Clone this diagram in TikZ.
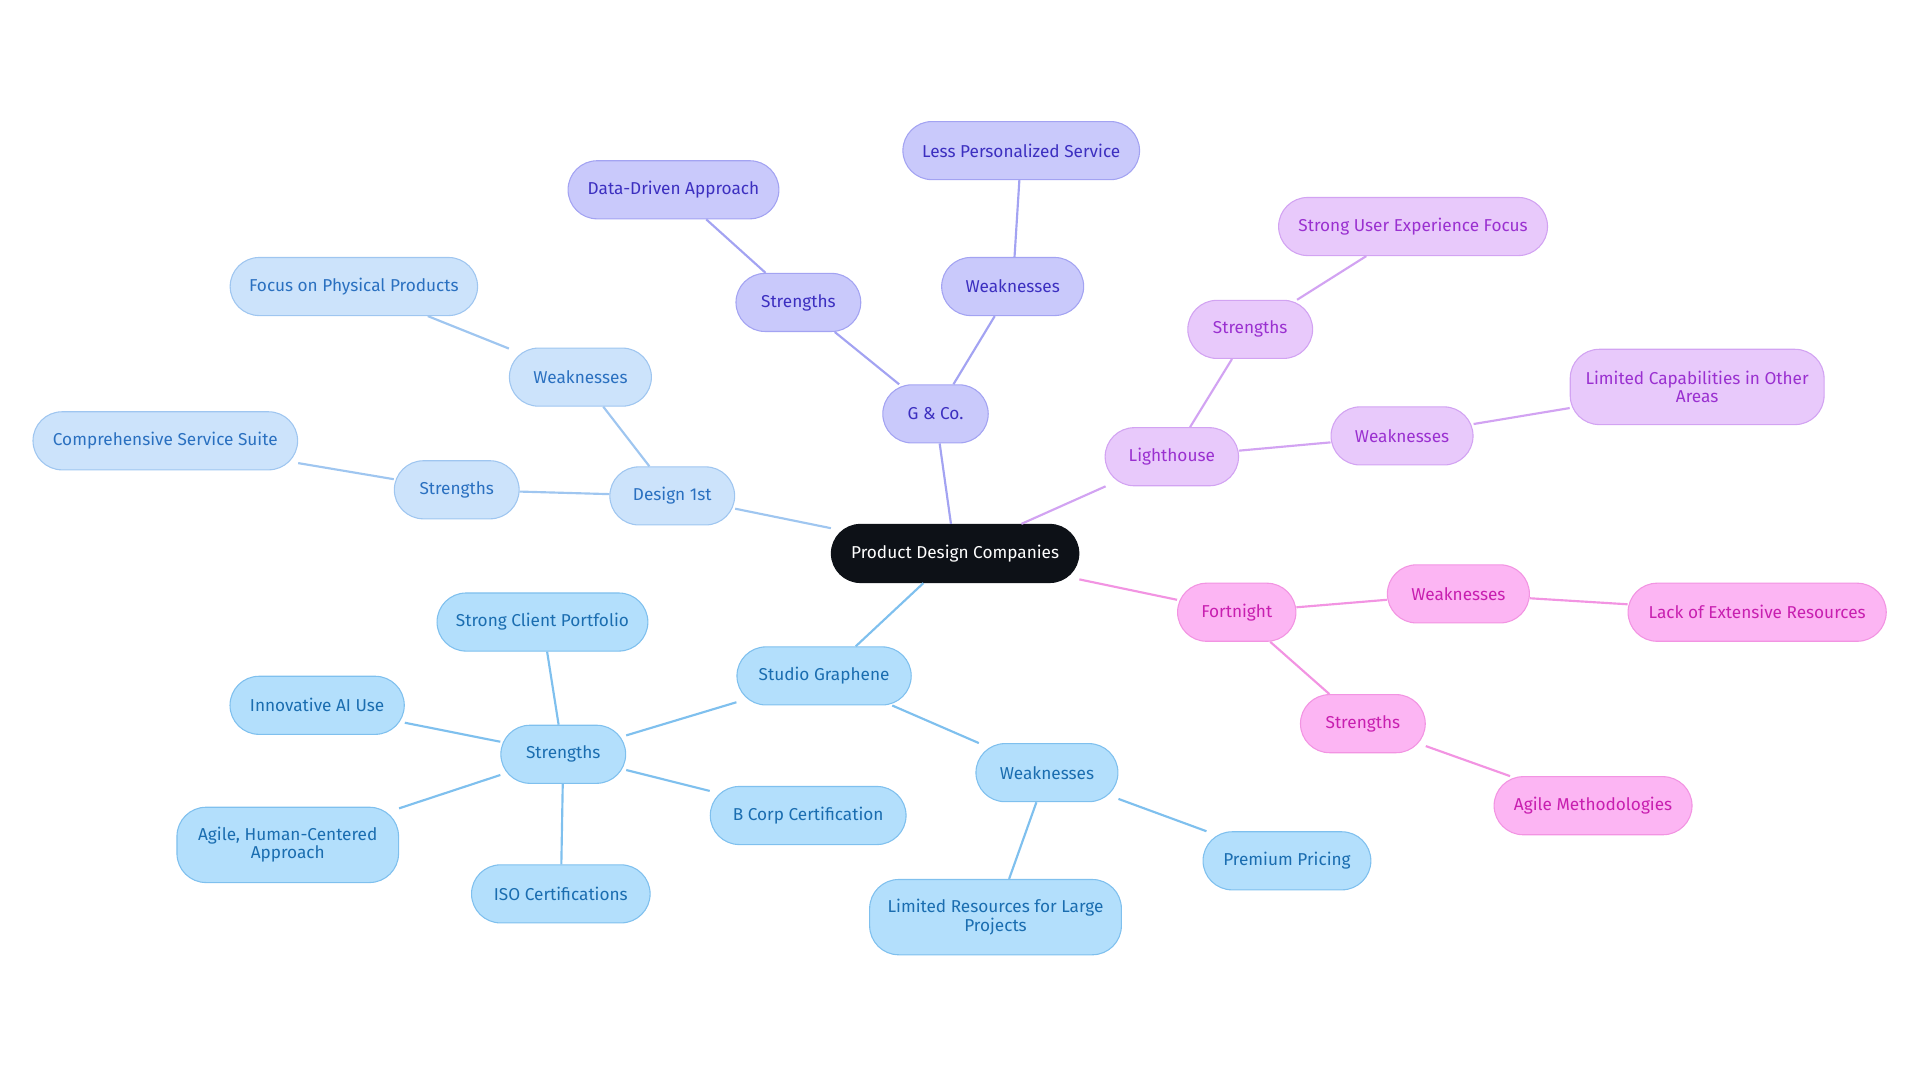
\documentclass[tikz,border=0pt]{standalone}
\usepackage{fontspec}
\setmainfont{Fira Sans}
\definecolor{rootc}{HTML}{0D1117}
\definecolor{gfill}{HTML}{C9C9FB}\definecolor{gline}{HTML}{A3A3F2}\definecolor{gtext}{HTML}{3C2FC0}
\definecolor{lfill}{HTML}{E8C9FB}\definecolor{lline}{HTML}{D2A3F2}\definecolor{ltext}{HTML}{9A30D0}
\definecolor{ffill}{HTML}{FCB5F3}\definecolor{fline}{HTML}{F294E2}\definecolor{ftext}{HTML}{C81FB0}
\definecolor{sfill}{HTML}{B3DFFC}\definecolor{sline}{HTML}{7FC0EE}\definecolor{stext}{HTML}{1A6DB0}
\definecolor{dfill}{HTML}{CCE3FB}\definecolor{dline}{HTML}{9FC6F0}\definecolor{dtext}{HTML}{2A70C0}
\tikzset{
  box/.style={rounded corners=13.5pt, minimum height=27pt, inner sep=2pt,
    align=center, font=\fontsize{8}{8.5}\selectfont, line width=0.5pt},
  tall/.style={minimum height=35pt, rounded corners=13.5pt},
  rootbox/.style={box, fill=rootc, draw=rootc, text=white},
  gbox/.style={box, fill=gfill, draw=gline, text=gtext},
  lbox/.style={box, fill=lfill, draw=lline, text=ltext},
  fbox/.style={box, fill=ffill, draw=fline, text=ftext},
  sbox/.style={box, fill=sfill, draw=sline, text=stext},
  dbox/.style={box, fill=dfill, draw=dline, text=dtext},
  link/.style={line width=1pt}
}
\begin{document}
\begin{tikzpicture}[x=0.02cm,y=-0.02cm]
\useasboundingbox (0,0) rectangle (1568,884);
% links first
\begin{scope}[on background layer/.style={}]
\end{scope}
\node[rootbox, minimum width=115pt] (root) at (780,452) {Product Design Companies};
% Design 1st
\node[dbox, minimum width=58pt] (d) at (549,405) {Design 1st};
\node[dbox, minimum width=66pt] (dw) at (474,308) {Weaknesses};
\node[dbox, minimum width=115pt] (dw1) at (289,234) {Focus on Physical Products};
\node[dbox, minimum width=58pt] (ds) at (373,400) {Strengths};
\node[dbox, minimum width=123pt] (ds1) at (135,360) {Comprehensive Service Suite};
% G & Co.
\node[gbox, minimum width=49pt] (g) at (764,338) {G \& Co.};
\node[gbox, minimum width=58pt] (gs) at (652,247) {Strengths};
\node[gbox, minimum width=98pt] (gs1) at (550,155) {Data-Driven Approach};
\node[gbox, minimum width=66pt] (gw) at (827,234) {Weaknesses};
\node[gbox, minimum width=110pt] (gw1) at (834,123) {Less Personalized Service};
% Lighthouse
\node[lbox, minimum width=62pt] (l) at (957,373) {Lighthouse};
\node[lbox, minimum width=58pt] (ls) at (1021,269) {Strengths};
\node[lbox, minimum width=125pt] (ls1) at (1154,185) {Strong User Experience Focus};
\node[lbox, minimum width=66pt] (lw) at (1145,356) {Weaknesses};
\node[lbox, tall, minimum width=118pt] (lw1) at (1386,316) {Limited Capabilities in Other\\Areas};
% Fortnight
\node[fbox, minimum width=55pt] (f) at (1010,500) {Fortnight};
\node[fbox, minimum width=66pt] (fw) at (1191,485) {Weaknesses};
\node[fbox, minimum width=120pt] (fw1) at (1435,500) {Lack of Extensive Resources};
\node[fbox, minimum width=58pt] (fs) at (1113,591) {Strengths};
\node[fbox, minimum width=92pt] (fs1) at (1301,658) {Agile Methodologies};
% Studio Graphene
\node[sbox, minimum width=81pt] (s) at (673,552) {Studio Graphene};
\node[sbox, minimum width=58pt] (ss) at (460,616) {Strengths};
\node[sbox, minimum width=98pt] (ss1) at (443,508) {Strong Client Portfolio};
\node[sbox, minimum width=81pt] (ss2) at (259,576) {Innovative AI Use};
\node[sbox, tall, minimum width=103pt] (ss3) at (235,690) {Agile, Human-Centered\\Approach};
\node[sbox, minimum width=83pt] (ss4) at (458,730) {ISO Certifications};
\node[sbox, minimum width=91pt] (ss5) at (660,666) {B Corp Certification};
\node[sbox, minimum width=66pt] (sw) at (855,631) {Weaknesses};
\node[sbox, minimum width=78pt] (sw1) at (1051,703) {Premium Pricing};
\node[sbox, tall, minimum width=117pt] (sw2) at (813,749) {Limited Resources for Large\\Projects};
% connectors
\begin{scope}[link]
\draw[dline] (root) -- (d);
\draw[dline] (d) -- (dw) (dw) -- (dw1) (d) -- (ds) (ds) -- (ds1);
\draw[gline] (root) -- (g);
\draw[gline] (g) -- (gs) (gs) -- (gs1) (g) -- (gw) (gw) -- (gw1);
\draw[lline] (root) -- (l);
\draw[lline] (l) -- (ls) (ls) -- (ls1) (l) -- (lw) (lw) -- (lw1);
\draw[fline] (root) -- (f);
\draw[fline] (f) -- (fw) (fw) -- (fw1) (f) -- (fs) (fs) -- (fs1);
\draw[sline] (root) -- (s);
\draw[sline] (s) -- (ss) (ss) -- (ss1) (ss) -- (ss2) (ss) -- (ss3) (ss) -- (ss4) (ss) -- (ss5);
\draw[sline] (s) -- (sw) (sw) -- (sw1) (sw) -- (sw2);
\end{scope}
\end{tikzpicture}
\end{document}
